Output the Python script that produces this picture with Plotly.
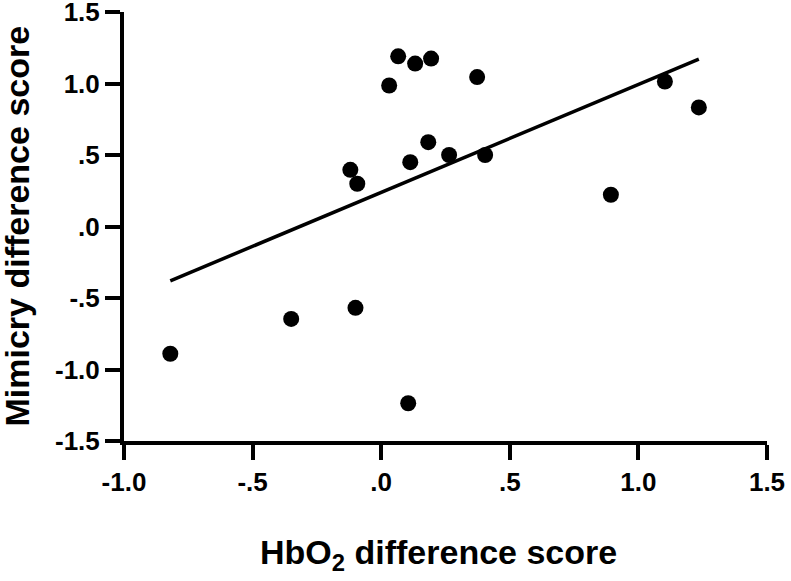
import plotly.graph_objects as go

# Data
hbo2_diff = [-0.82, -0.35, -0.10, 0.105, -0.12, -0.093, 0.031, 0.066, 0.132, 0.194,
             0.373, 0.113, 0.183, 0.264, 0.404, 0.893, 1.103, 1.235]
mimicry_diff = [-0.89, -0.646, -0.569, -1.236, 0.396, 0.299, 0.986, 1.19, 1.139, 1.174,
                1.045, 0.45, 0.59, 0.50, 0.50, 0.222, 1.014, 0.833]

# Regression line endpoints
fit_x = [-0.82, 1.235]
fit_y = [-0.38, 1.17]

x_tickvals = [-1.0, -0.5, 0.0, 0.5, 1.0, 1.5]
x_ticktext = ["-1.0", "-.5", ".0", ".5", "1.0", "1.5"]
y_tickvals = [-1.5, -1.0, -0.5, 0.0, 0.5, 1.0, 1.5]
y_ticktext = ["-1.5", "-1.0", "-.5", ".0", ".5", "1.0", "1.5"]

x_title = "HbO<sub>2</sub> difference score"
y_title = "Mimicry difference score"

FONT = "Liberation Sans, Arial, Helvetica, sans-serif"
TICKFONT = dict(size=26, family=FONT, weight="bold", color="black")
TITLEFONT = dict(size=34, family=FONT, weight="bold", color="black")

fig = go.Figure()
fig.add_trace(go.Scatter(x=fit_x, y=fit_y, mode="lines",
                         line=dict(color="black", width=3.5),
                         showlegend=False, cliponaxis=False, hoverinfo="skip"))
fig.add_trace(go.Scatter(x=hbo2_diff, y=mimicry_diff, mode="markers",
                         marker=dict(color="black", size=16, line=dict(width=0)),
                         showlegend=False, cliponaxis=False))

axis_common = dict(showgrid=False, zeroline=False, showline=True, linecolor="black",
                   linewidth=4, ticks="outside", ticklen=15, tickwidth=4,
                   tickcolor="black", tickfont=TICKFONT, automargin=False,
                   ticklabeloverflow="allow")

fig.update_layout(
    width=791, height=581,
    margin=dict(l=124, r=24, t=12, b=140),
    paper_bgcolor="white", plot_bgcolor="white",
    font=dict(family=FONT, color="black"),
    xaxis=dict(range=[-1.0, 1.5], tickvals=x_tickvals, ticktext=x_ticktext, **axis_common),
    yaxis=dict(range=[-1.5, 1.5], tickvals=y_tickvals, ticktext=y_ticktext, **axis_common),
    annotations=[
        dict(text=x_title, xref="paper", yref="paper", x=0.5, y=0,
             xanchor="center", yanchor="middle", xshift=-7, yshift=-113,
             showarrow=False, font=TITLEFONT),
        dict(text=y_title, xref="paper", yref="paper", x=0, y=0.5,
             xanchor="center", yanchor="middle", xshift=-108, textangle=-90,
             showarrow=False, font=TITLEFONT),
    ],
)

fig.write_html("out.html", config={"displayModeBar": False},
               post_script="document.body.style.margin='0';")
